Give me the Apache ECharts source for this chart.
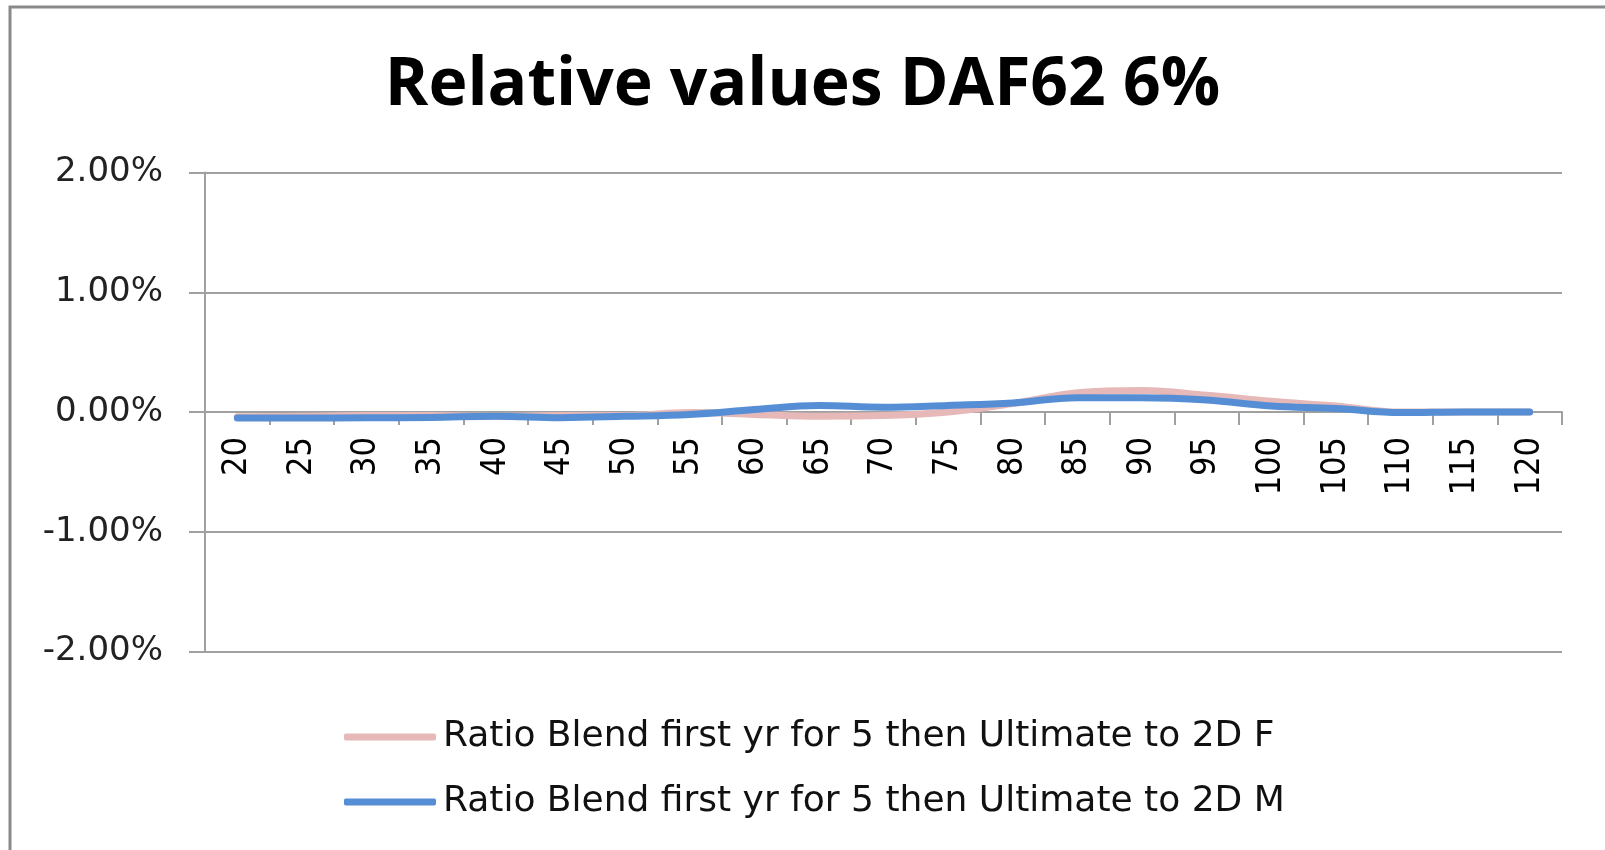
<!DOCTYPE html>
<html>
<head>
<meta charset="utf-8">
<script src="https://cdn.jsdelivr.net/npm/echarts@6/dist/echarts.min.js"></script>
<style>
  html, body { margin: 0; padding: 0; background: #fff; }
  #chart { width: 1605px; height: 850px; }
</style>
</head>
<body>
<div id="chart"></div>
<script>
// Ages on the horizontal axis
const ages = ['20','25','30','35','40','45','50','55','60','65','70','75','80','85','90','95','100','105','110','115','120'];

// Relative differences, in percent
const seriesF = [-0.04, -0.035, -0.03, -0.03, -0.035, -0.03, -0.03, -0.005, -0.02, -0.035, -0.03, 0.0, 0.07, 0.16, 0.18, 0.14, 0.09, 0.05, 0.0, 0.0, 0.0];
const seriesM = [-0.05, -0.05, -0.048, -0.045, -0.035, -0.047, -0.036, -0.02, 0.02, 0.055, 0.04, 0.055, 0.075, 0.12, 0.12, 0.10, 0.05, 0.03, -0.005, 0.0, 0.0];

const nameF = 'Ratio Blend first yr for 5 then Ultimate to 2D F';
const nameM = 'Ratio Blend first yr for 5 then Ultimate to 2D M';
const titleText = 'Relative values DAF62 6%';

const gray = '#a0a0a0';

// plot area bounds (px)
const gridTop = 172.5;
const gridBottom = 198.5;
const yMin = -2, yMax = 2;

const chart = echarts.init(document.getElementById('chart'), null, { renderer: 'canvas' });

// Category labels hang just below the zero line; the axis labels are laid out
// from the bottom edge of the grid, so shift them up by the zero line's height.
const plotH = 850 - gridTop - gridBottom;
const zeroFromBottom = plotH * (0 - yMin) / (yMax - yMin);

chart.setOption({
  backgroundColor: '#fff',
  animation: false,
  title: {
    text: titleText,
    left: 'center',
    top: 48,
    textStyle: { fontFamily: '"Open Sans"', fontWeight: 'bold', fontSize: 66, color: '#000' }
  },
  graphic: [{
    type: 'rect',
    shape: { x: 10, y: 7, width: 1700, height: 900 },
    style: { fill: 'none', stroke: '#8a8a8a', lineWidth: 3 },
    silent: true
  }],
  legend: {
    orient: 'vertical',
    left: 339,
    top: 712,
    itemWidth: 92,
    itemHeight: 7,
    itemGap: 25,
    icon: 'roundRect',
    textStyle: { fontFamily: '"DejaVu Sans"', fontSize: 36, color: '#111', lineHeight: 40, padding: [0, 0, 0, 2] },
    data: [nameF, nameM]
  },
  grid: { left: 205, right: 43, top: gridTop, bottom: gridBottom, containLabel: false },
  xAxis: {
    type: 'category',
    data: ages,
    boundaryGap: true,
    axisLine: { onZero: true, lineStyle: { color: gray, width: 2 } },
    axisTick: { show: true, length: 13, lineStyle: { color: gray, width: 2 } },
    axisLabel: {
      rotate: 90,
      margin: 25 - zeroFromBottom,
      interval: 0,
      fontFamily: '"DejaVu Sans Condensed", "DejaVu Sans"',
      fontSize: 34,
      color: '#000'
    },
    splitLine: { show: false }
  },
  yAxis: {
    type: 'value',
    min: yMin,
    max: yMax,
    interval: 1,
    axisLine: { show: true, lineStyle: { color: gray, width: 2 } },
    axisTick: { show: true, length: 16, lineStyle: { color: gray, width: 2 } },
    axisLabel: {
      margin: 42,
      fontFamily: '"DejaVu Sans"',
      fontSize: 34,
      color: '#222',
      formatter: v => v.toFixed(2) + '%'
    },
    splitLine: { show: true, lineStyle: { color: gray, width: 2 } }
  },
  series: [
    {
      name: nameF,
      type: 'line',
      data: seriesF,
      smooth: 0.4,
      showSymbol: false,
      symbol: 'none',
      color: '#E6B9B8',
      lineStyle: { width: 7, color: '#E6B9B8', cap: 'round', join: 'round' }
    },
    {
      name: nameM,
      type: 'line',
      data: seriesM,
      smooth: 0.4,
      showSymbol: false,
      symbol: 'none',
      color: '#558ED5',
      lineStyle: { width: 7, color: '#558ED5', cap: 'round', join: 'round' }
    }
  ]
});
</script>
</body>
</html>
